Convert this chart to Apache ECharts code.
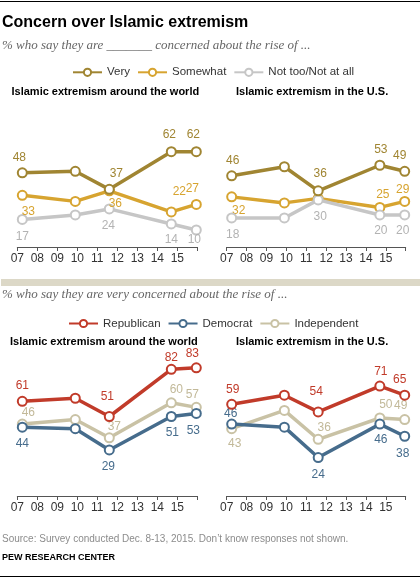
<!DOCTYPE html>
<html><head><meta charset="utf-8">
<script src="https://cdn.jsdelivr.net/npm/echarts@6/dist/echarts.min.js"></script>
<style>html,body{margin:0;padding:0;background:#fff}#c{width:420px;height:579px}</style>
</head><body><div id="c"></div>
<script>
// ---- data ----
const surveyDates = [2007.25, 2009.9, 2011.6, 2014.7, 2015.95];
const yearTickLabels = ['07','08','09','10','11','12','13','14','15',''];
const concernNames = ['Very','Somewhat','Not too/Not at all'];
const partyNames = ['Republican','Democrat','Independent'];
const worldVery = [48, 49, 37, 62, 62];
const worldSomewhat = [33, 29, 36, 22, 27];
const worldNotToo = [17, 20, 24, 14, 10];
const usVery = [46, 52, 36, 53, 49];
const usSomewhat = [32, 28, 31, 25, 29];
const usNotToo = [18, 18, 30, 20, 20];
const worldRep = [61, 63, 51, 82, 83];
const worldDem = [44, 43, 29, 51, 53];
const worldInd = [46, 49, 37, 60, 57];
const usRep = [59, 65, 54, 71, 65];
const usDem = [46, 44, 24, 46, 38];
const usInd = [43, 55, 36, 50, 49];

// ---- label placement (style, null = no label) ----
const LBL = {
  worldVery: [[-3,-15],null,[7,-16],[-2,-17],[-3,-17]],
  worldSomewhat: [[6,16],null,[6,13],[8,-20],[-4,-16]],
  worldNotToo: [[0,17],null,[-1,17],[0,16],[-2,10]],
  usVery: [[1,-15],null,[2,-17],[1,-16],[-5,-16]],
  usSomewhat: [[7,14],null,null,[3,-13],[-2,-12]],
  usNotToo: [[1,17],null,[2,17],[1,16],[-2,16]],
  worldRep: [[0,-16],null,[-2,-20],[0,-12],[-4,-14]],
  worldInd: [[6,-11],null,[5,-11],[5,-13],[-4,-13]],
  worldDem: [[0,17],null,[-1,17],[1,16],[-3,17]],
  usRep: [[1,-15],null,[-2,-20],[1,-14],[-5,-16]],
  usInd: [[3,15],null,[6,-12],[6,-13],[-4,-14]],
  usDem: [[-1,-10],null,[0,17],[1,16],[-2,17]]
};

const SANS = 'Liberation Sans, Arial, sans-serif';
const SERIF = 'Liberation Serif, Georgia, serif';
const C = {
  very: '#a08532', somewhat: '#d7a430', nottoo: '#c6c6c6', nottooLbl: '#b3b3b3',
  rep: '#c13b2a', dem: '#466c8c', ind: '#c9c2a5', indLbl: '#c2b999'
};

function mk(name, vals, color, lblColor, axis, offs, z) {
  return {
    type: 'line', name: name, xAxisIndex: axis, yAxisIndex: axis, z: z,
    data: vals.map((v, i) => ({
      value: [surveyDates[i], v],
      label: offs[i] ? { show: true, offset: offs[i] } : { show: false }
    })),
    symbol: 'circle', symbolSize: 9,
    lineStyle: { color: color, width: 3.5 },
    itemStyle: { color: '#fff', borderColor: color, borderWidth: 2 },
    label: { position: 'inside', color: lblColor, fontSize: 12, fontFamily: SANS,
      formatter: p => String(p.value[1]) },
    emphasis: { disabled: true },
    animation: false
  };
}

const grids = [
  { left: 17.3, right: 222.7, top: 124.6, bottom: 332 },
  { left: 226.7, right: 14.3, top: 124.6, bottom: 332 },
  { left: 17.3, right: 222.7, top: 357.2, bottom: 83 },
  { left: 226.7, right: 14.3, top: 357.2, bottom: 83 }
];
const xAxes = grids.map((g, i) => ({
  type: 'value', gridIndex: i, min: 2007, max: 2016, interval: 1,
  axisLine: { show: true, onZero: false, lineStyle: { color: '#555', width: 1 } },
  axisTick: { show: true, length: 4, lineStyle: { color: '#555' } },
  splitLine: { show: false },
  axisLabel: { fontSize: 12, color: '#333', fontFamily: SANS, margin: 6,
    formatter: v => yearTickLabels[Math.round(v) - 2007] || '' }
}));
const yAxes = grids.map((g, i) => ({
  type: 'value', gridIndex: i, show: false, min: -1.3, max: i < 2 ? 80 : 90,
  splitLine: { show: false }
}));

function txt(text, x, y, size, weight, color, family, style) {
  return { type: 'text', x: x, y: y, silent: true,
    style: { text: text, fill: color, fontSize: size, fontWeight: weight,
      fontFamily: family, fontStyle: style || 'normal', verticalAlign: 'middle', align: 'left' } };
}

const option = {
  animation: false,
  grid: grids,
  xAxis: xAxes,
  yAxis: yAxes,
  legend: [
    { data: concernNames, left: 72, top: 66.3, padding: 0, itemWidth: 29, itemHeight: 9, itemGap: 7,
      selectedMode: false, textStyle: { fontSize: 11.5, color: '#333', fontFamily: SANS } },
    { data: partyNames, left: 68, top: 317.5, padding: 0, itemWidth: 29, itemHeight: 9, itemGap: 7,
      selectedMode: false, textStyle: { fontSize: 11.5, color: '#333', fontFamily: SANS } }
  ],
  series: [
    mk(concernNames[2], worldNotToo, C.nottoo, C.nottooLbl, 0, LBL.worldNotToo, 2),
    mk(concernNames[1], worldSomewhat, C.somewhat, C.somewhat, 0, LBL.worldSomewhat, 3),
    mk(concernNames[0], worldVery, C.very, C.very, 0, LBL.worldVery, 4),
    mk(concernNames[1], usSomewhat, C.somewhat, C.somewhat, 1, LBL.usSomewhat, 2),
    mk(concernNames[2], usNotToo, C.nottoo, C.nottooLbl, 1, LBL.usNotToo, 3),
    mk(concernNames[0], usVery, C.very, C.very, 1, LBL.usVery, 4),
    mk(partyNames[2], worldInd, C.ind, C.indLbl, 2, LBL.worldInd, 2),
    mk(partyNames[1], worldDem, C.dem, C.dem, 2, LBL.worldDem, 3),
    mk(partyNames[0], worldRep, C.rep, C.rep, 2, LBL.worldRep, 4),
    mk(partyNames[2], usInd, C.ind, C.indLbl, 3, LBL.usInd, 2),
    mk(partyNames[1], usDem, C.dem, C.dem, 3, LBL.usDem, 3),
    mk(partyNames[0], usRep, C.rep, C.rep, 3, LBL.usRep, 4)
  ],
  graphic: [
    { type: 'rect', silent: true, shape: { x: 0, y: 1, width: 420, height: 1 }, style: { fill: '#000' } },
    { type: 'rect', silent: true, shape: { x: 0, y: 576, width: 420, height: 1 }, style: { fill: '#000' } },
    { type: 'rect', silent: true, shape: { x: 1, y: 279, width: 419, height: 7 }, style: { fill: '#dcd8c7' } },
    txt('Concern over Islamic extremism', 2, 22.5, 16, 'bold', '#000', SANS),
    txt('% who say they are _______ concerned about the rise of ...', 2, 45.5, 13, 'normal', '#666', SERIF, 'italic'),
    txt('Islamic extremism around the world', 11.5, 91.5, 11, 'bold', '#000', SANS),
    txt('Islamic extremism in the U.S.', 236, 91.5, 11, 'bold', '#000', SANS),
    txt('% who say they are very concerned about the rise of ...', 2, 295, 13, 'normal', '#666', SERIF, 'italic'),
    txt('Islamic extremism around the world', 10, 341.7, 11, 'bold', '#000', SANS),
    txt('Islamic extremism in the U.S.', 236, 341.7, 11, 'bold', '#000', SANS),
    txt('Source: Survey conducted Dec. 8-13, 2015. Don\u2019t know responses not shown.', 2, 539.3, 10, 'normal', '#8c8c8c', SANS),
    txt('PEW RESEARCH CENTER', 2, 557.3, 9, 'bold', '#000', SANS)
  ]
};
const chart = echarts.init(document.getElementById('c'), null, { renderer: 'canvas' });
chart.setOption(option);
</script>
</body></html>
